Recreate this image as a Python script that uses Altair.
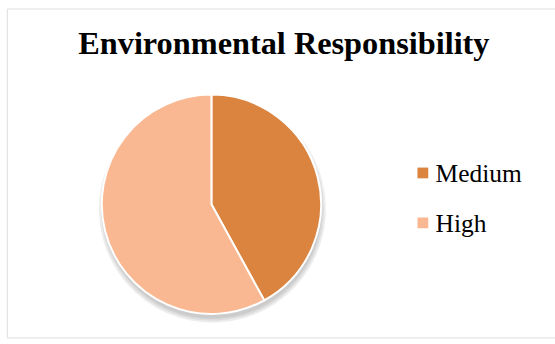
import altair as alt
import pandas as pd

categories = ["Medium", "High"]
values = [42, 58]
colors = ["#DA843F", "#F9B891"]
title_text = ["Environmental Responsibility"]

df = pd.DataFrame({"category": categories, "value": values, "order": [0, 1]})
title_df = pd.DataFrame({"t": title_text})

color_scale = alt.Scale(domain=categories, range=colors)
# legend rows placed through an ordinal point scale (row centres, relative to plot top)
legend_y = alt.Y(
    "category:N",
    scale=alt.Scale(type="point", domain=categories, range=[168, 219], padding=0),
    axis=None,
)

base = alt.Chart(df).encode(
    theta=alt.Theta("value:Q", stack=True),
    order=alt.Order("order:Q"),
)

shadows = [
    base.mark_arc(outerRadius=r, color="#000000", opacity=0.07).encode(
        x=alt.value(210), y=alt.value(200 + 5)
    )
    for r in (112, 114, 116)
]

pie = base.mark_arc(outerRadius=112, stroke="white", strokeWidth=2).encode(
    x=alt.value(209),
    y=alt.value(200),
    color=alt.Color("category:N", scale=color_scale, legend=None),
)

legend_sq = alt.Chart(df).mark_square(size=121, opacity=1).encode(
    x=alt.value(425),
    y=legend_y,
    color=alt.Color("category:N", scale=color_scale, legend=None),
)

legend_txt = alt.Chart(df).mark_text(
    font="Liberation Serif",
    fontSize=26,
    color="#000000",
    align="left",
    baseline="middle",
    dy=1,
).encode(x=alt.value(438), y=legend_y, text="category:N")

title = alt.Chart(title_df).mark_text(
    font="Liberation Serif",
    fontSize=33,
    fontWeight="bold",
    color="#000000",
    align="center",
    baseline="alphabetic",
).encode(text="t:N", x=alt.value(283), y=alt.value(46))

chart = alt.layer(*shadows, pie, legend_sq, legend_txt, title).properties(
    width=560,
    height=336,
    padding={"left": 7, "top": 5, "right": 0, "bottom": 0},
    autosize=alt.AutoSizeParams(type="none"),
).configure_view(stroke="#8c8c8c", strokeWidth=2).configure(background="white")

chart.save("out.html", embed_options={"renderer": "svg", "actions": False})
